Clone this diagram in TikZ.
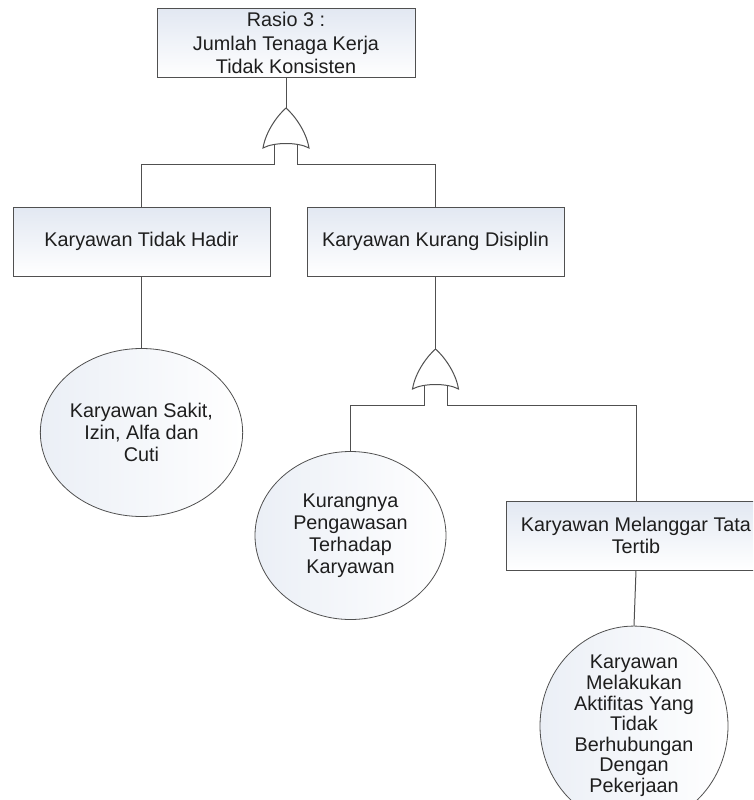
\documentclass[tikz,border=0pt]{standalone}
\usepackage{fontspec}
\setmainfont{Liberation Sans}
\usetikzlibrary{shapes.geometric}
\definecolor{edgec}{RGB}{80,80,80}
\definecolor{fillL}{RGB}{226,232,242}
\definecolor{txt}{RGB}{30,30,30}
\begin{document}
\begin{tikzpicture}[x=1pt,y=-1pt,
  every node/.style={font=\fontsize{19.8}{22}\selectfont,text=txt},
  evbox/.style={draw=edgec,line width=1pt,rectangle,minimum width=257pt,minimum height=69pt,
    inner sep=0pt,align=center,left color=fillL,right color=white,shading angle=0},
  basic/.style={draw=edgec,line width=0.8pt,ellipse,minimum width=191pt,minimum height=168pt,
    inner sep=0pt,align=center,left color=fillL!70,right color=white},
  conn/.style={draw=edgec,line width=1pt},
  orgate/.pic={
    \coordinate (-out) at (0,0);
    \draw[edgec,line width=1pt,fill=white] (0,0) .. controls (7,6) and (20,22) .. (23,40)
      .. controls (12,34) and (-12,34) .. (-23,40)
      .. controls (-20,22) and (-7,6) .. (0,0) -- cycle;
    \coordinate (-l) at (-11.5,36.5);
    \coordinate (-r) at (11.5,36.5);
  }]
\useasboundingbox (0,0) rectangle (753,800);
\begin{scope}
\clip (0,0) rectangle (753,800);
% nodes
\node[evbox,minimum width=258pt,font=\fontsize{19.8}{23.5}\selectfont] (top) at (286,43) {Rasio 3 :\\Jumlah Tenaga Kerja\\Tidak Konsisten};
\node[evbox] (hadir) at (141.5,241.5) {Karyawan Tidak Hadir};
\node[evbox] (disiplin) at (435.5,241.5) {Karyawan Kurang Disiplin};
\node[evbox,minimum width=260pt] (langgar) at (636,535.5) {Karyawan Melanggar Tata\\Tertib};
\node[basic] (sakit) at (141.5,432.5) {Karyawan Sakit,\\Izin, Alfa dan\\Cuti};
\node[basic] (awas) at (350.5,535.5) {Kurangnya\\Pengawasan\\Terhadap\\Karyawan};
\node[basic,minimum width=188pt,font=\fontsize{19.8}{20.6}\selectfont] (aktif) at (634,726) {Karyawan\\Melakukan\\Aktifitas Yang\\Tidak\\Berhubungan\\Dengan\\Pekerjaan};
% gates
\pic (g1) at (286,108) {orgate};
\pic (g2) at (435.5,349) {orgate};
% connectors
\draw[conn] (top.south) -- (g1-out);
\draw[conn] (g1-l) -- ++(0,19.5) -| (hadir.north);
\draw[conn] (g1-r) -- ++(0,19.5) -| (disiplin.north);
\draw[conn] (hadir.south) -- (sakit.north);
\draw[conn] (disiplin.south) -- (g2-out);
\draw[conn] (g2-l) -- ++(0,19.5) -| (awas.north);
\draw[conn] (g2-r) -- ++(0,19.5) -| (langgar.north);
\draw[conn] (langgar.south) -- (aktif.north);
\end{scope}
\end{tikzpicture}
\end{document}
